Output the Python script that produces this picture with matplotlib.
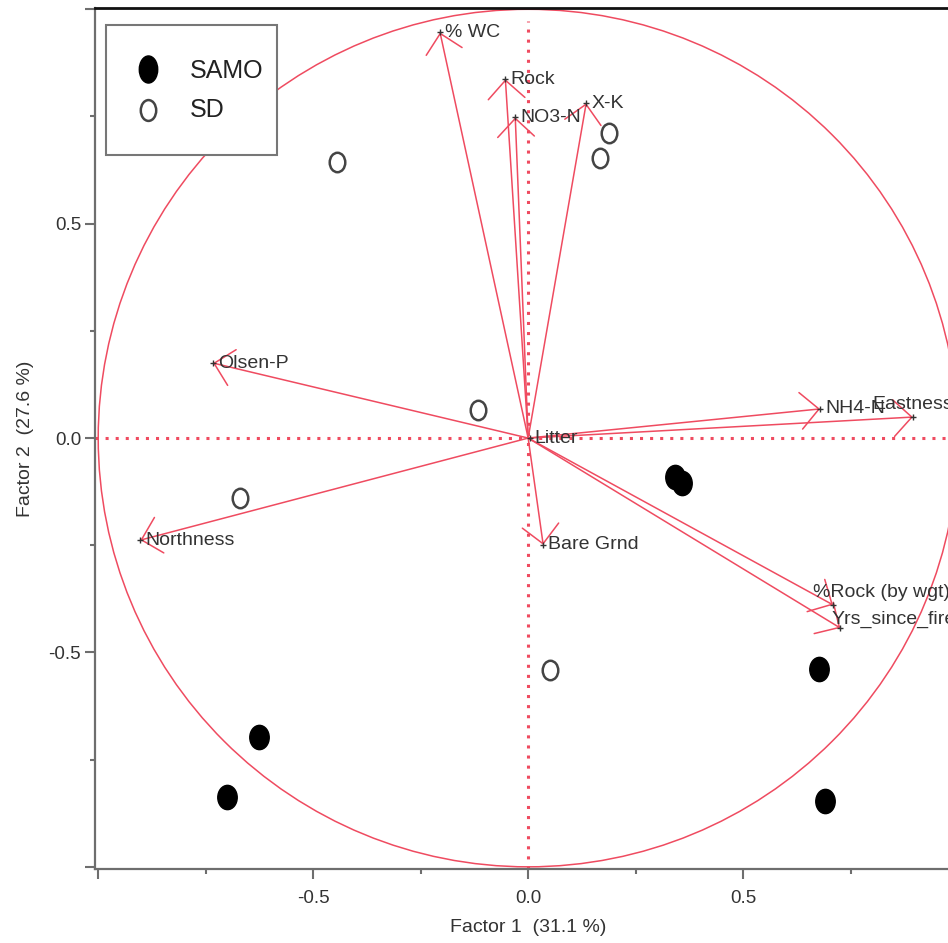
# PCA biplot: factor loadings (arrows) + site scores (SAMO / SD)

import numpy as np
import matplotlib.pyplot as plt
from matplotlib.patches import Circle, FancyArrowPatch, Rectangle
from matplotlib.path import Path
from matplotlib.transforms import Affine2D, blended_transform_factory

plt.rcParams['font.family'] = ['Liberation Sans', 'DejaVu Sans']

# variable loadings on factor 1 / factor 2
var_names = ['% WC', 'Rock', 'NO3-N', 'X-K', 'Olsen-P', 'Northness', 'Litter',
             'Bare Grnd', 'NH4-N', 'Eastness', '%Rock (by wgt)', 'Yrs_since_fire']
load_f1 = [-0.205, -0.053, -0.030, 0.135, -0.733, -0.902, 0.004,
           0.035, 0.679, 0.895, 0.709, 0.726]
load_f2 = [0.946, 0.837, 0.748, 0.781, 0.175, -0.238, 0.0,
           -0.249, 0.068, 0.049, -0.389, -0.443]

# site scores
samo_f1 = [0.341, 0.357, 0.677, 0.690, -0.626, -0.700]
samo_f2 = [-0.090, -0.104, -0.538, -0.846, -0.697, -0.837]
sd_f1 = [-0.444, 0.188, 0.167, -0.116, -0.670, 0.051]
sd_f2 = [0.643, 0.711, 0.653, 0.065, -0.140, -0.541]

groups = ['SAMO', 'SD']
x_label = 'Factor 1  (31.1 %)'
y_label = 'Factor 2  (27.6 %)'

red = '#ef4b60'
txt = '#333333'
axc = '#6e6e6e'

# slightly tall ellipses used as markers
ell = Path.unit_circle().transformed(Affine2D().scale(0.8, 1.0))
ell_leg = Path.unit_circle().transformed(Affine2D().scale(0.68, 1.0))
ell_leg2 = Path.unit_circle().transformed(Affine2D().scale(0.74, 1.0))

fig = plt.figure(figsize=(9.48, 9.43), dpi=100)
ax = fig.add_axes([0.1002, 0.0785, 0.8998, 0.913])

# unit circle and dotted axes
ax.add_patch(Circle((0, 0), 1.0, fill=False, ec=red, lw=1.1))
ax.axhline(0, color=red, lw=2.2, ls=(0, (1, 2.3)))
ax.axvline(0, color=red, lw=2.2, ls=(0, (1, 2.3)), ymax=0.985)

# label nudges (points) where the original moved text off the tip
nudge = {'Eastness': (-33, 9), '%Rock (by wgt)': (-18, 9), 'Yrs_since_fire': (-10, 6.5)}

for name, x, y in zip(var_names, load_f1, load_f2):
    if name != 'Litter':
        ax.add_patch(FancyArrowPatch((0, 0), (x, y),
                                     arrowstyle='->,head_length=0.66,head_width=0.66',
                                     mutation_scale=20, shrinkA=0, shrinkB=0,
                                     color=red, lw=1.1))
    ax.plot(x, y, marker='+', ms=5, mew=1.0, color=txt)
    dx, dy = nudge.get(name, (0, 0))
    ax.annotate(name, (x, y), xytext=(3.5 + dx, dy), textcoords='offset points',
                ha='left', va='center', fontsize=14, color=txt)

ax.plot(samo_f1, samo_f2, ls='none', marker=ell, ms=17.5, mfc='black', mec='black')
ax.plot(sd_f1, sd_f2, ls='none', marker=ell, ms=14, mfc='white', mec='#444444', mew=1.8)

# ticks and spines (set ticks first, limits after, so ticks don't widen the view)
ax.set_xticks([-1, -0.5, 0, 0.5, 1])
ax.set_xticklabels(['', '-0.5', '0.0', '0.5', ''])
ax.set_yticks([-1, -0.5, 0, 0.5, 1])
ax.set_yticklabels(['', '-0.5', '0.0', '0.5', ''])
ax.set_xticks([-0.75, -0.25, 0.25, 0.75], minor=True)
ax.set_yticks([-0.75, -0.25, 0.25, 0.75], minor=True)
ax.set_xlim(-1.0075, 0.9765)
ax.set_ylim(-1.005, 1.003)
ax.tick_params(which='major', length=7, width=1.5, color=axc, labelsize=13.5,
               labelcolor=txt)
ax.tick_params(which='minor', length=3.5, width=1.5, color=axc)
ax.tick_params(axis='x', which='major', pad=8)
ax.tick_params(axis='y', which='major', pad=3)

ax.spines['right'].set_visible(False)
ax.spines['top'].set_color('#111111')
ax.spines['top'].set_linewidth(2)
for s in ['left', 'bottom']:
    ax.spines[s].set_color(axc)
    ax.spines[s].set_linewidth(1.6)

ax.set_xlabel(x_label, fontsize=14, color=txt)
ax.xaxis.set_label_coords(0.0, -0.0685,
                          transform=blended_transform_factory(ax.transData, ax.transAxes))
ax.xaxis.label.set_va('center')
ax.set_ylabel(y_label, fontsize=14, color=txt)
ax.yaxis.set_label_coords(-0.082, 0.5)
ax.yaxis.label.set_va('center')

# legend box drawn by hand (axes fractions)
ax.add_patch(Rectangle((0.0129, 0.8293), 0.2005, 0.151, transform=ax.transAxes,
                       fill=True, fc='white', ec='#777777', lw=1.5, zorder=5))
ax.plot(0.0621, 0.9290, transform=ax.transAxes, marker=ell_leg, ms=19.5,
        mfc='black', mec='black', ls='none', zorder=6)
ax.plot(0.0621, 0.8815, transform=ax.transAxes, marker=ell_leg2, ms=15,
        mfc='white', mec='#444444', mew=1.8, ls='none', zorder=6)
for g, yy in zip(groups, [0.9265, 0.8815]):
    ax.text(0.1114, yy, g, transform=ax.transAxes, fontsize=18, color='#222222',
            ha='left', va='center', zorder=6)

fig.savefig('out.png', dpi=100)
